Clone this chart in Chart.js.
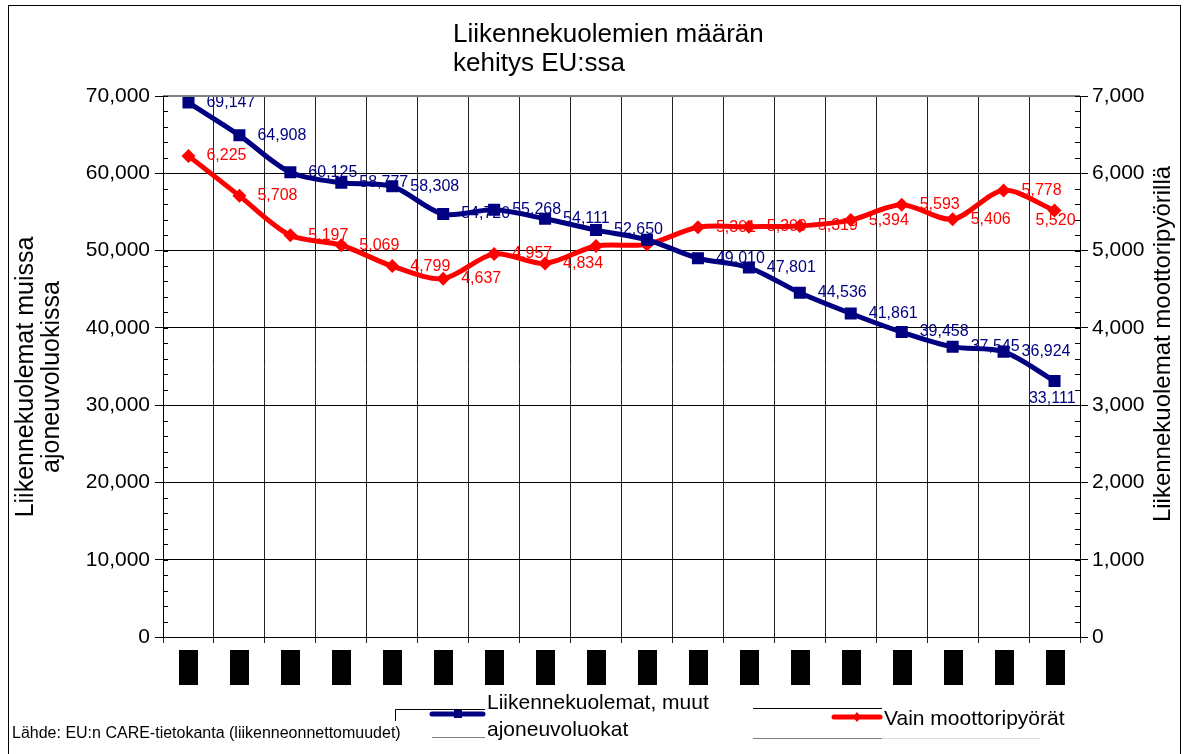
<!DOCTYPE html>
<html lang="fi">
<head>
<meta charset="utf-8">
<title>Liikennekuolemien määrän kehitys EU:ssa</title>
<script src="https://cdn.jsdelivr.net/npm/chart.js@4/dist/chart.umd.min.js"></script>
<style>
  body { margin: 0; background: #fff; }
  canvas { display: block; }
</style>
</head>
<body>
<canvas id="kaavio" width="1184" height="754"></canvas>
<script>
// vuodet (akselin tekstit näkyvät alkuperäisessä vain mustina palkkeina)
const vuodet = ["1991", "1992", "1993", "1994", "1995", "1996", "1997", "1998", "1999",
  "2000", "2001", "2002", "2003", "2004", "2005", "2006", "2007", "2008"];

// muut ajoneuvoluokat (vasen akseli)
const muutAjoneuvot = [69147, 64908, 60125, 58777, 58308, 54720, 55268, 54111, 52650,
  51400, 49010, 47801, 44536, 41861, 39458, 37545, 36924, 33111];

// moottoripyörät (oikea akseli)
const moottoripyorat = [6225, 5708, 5197, 5069, 4799, 4637, 4957, 4834, 5060,
  5080, 5301, 5309, 5319, 5394, 5593, 5406, 5778, 5520];

// arvot joiden tunnus puuttuu kuvasta
const piilotetutMuut = [9];
const piilotetutMp = [8, 9];

const vasenAkseli = [0, 10000, 20000, 30000, 40000, 50000, 60000, 70000];
const oikeaAkseli = [0, 1000, 2000, 3000, 4000, 5000, 6000, 7000];

const otsikko = ["Liikennekuolemien määrän", "kehitys EU:ssa"];
const vasenOtsikko = ["Liikennekuolemat muissa", "ajoneuvoluokissa"];
const oikeaOtsikko = "Liikennekuolemat moottoripyörillä";
const selite1 = ["Liikennekuolemat, muut", "ajoneuvoluokat"];
const selite2 = "Vain moottoripyörät";
const lahde = "Lähde: EU:n CARE-tietokanta (liikenneonnettomuudet)";

const fontti = "'Liberation Sans', Arial, sans-serif";
const sininen = "#000080";
const punainen = "#FF0000";

const muotoile = v => v.toLocaleString("en-US");

// arvotunnukset viivojen alle
const arvoTunnukset = {
  id: "arvoTunnukset",
  beforeDatasetsDraw(chart) {
    const ctx = chart.ctx;
    ctx.save();
    ctx.font = "16px " + fontti;
    chart.data.datasets.forEach((ds, di) => {
      const meta = chart.getDatasetMeta(di);
      const piilo = di === 0 ? piilotetutMuut : piilotetutMp;
      ctx.fillStyle = ds.borderColor;
      meta.data.forEach((p, i) => {
        if (piilo.includes(i)) return;
        const teksti = muotoile(ds.data[i]);
        if (i === ds.data.length - 1) {
          ctx.textAlign = "right";
          ctx.textBaseline = "middle";
          ctx.fillText(teksti, p.x + 21, p.y + (di === 0 ? 17 : 10));
        } else {
          ctx.textAlign = "left";
          ctx.textBaseline = "middle";
          ctx.fillText(teksti, p.x + 18, p.y);
        }
      });
    });
    ctx.restore();
  }
};

// otsikot, pikkuviivat, selite ym.
const koristeet = {
  id: "koristeet",
  afterDraw(chart) {
    const ctx = chart.ctx;
    const ca = chart.chartArea;
    const yV = chart.scales.y;
    const yO = chart.scales.y1;
    const x = chart.scales.x;
    ctx.save();

    // reunus
    ctx.strokeStyle = "#000";
    ctx.lineWidth = 1;
    ctx.strokeRect(8.5, 5.5, 1172, 760);

    // piirtoalueen yläreuna
    ctx.strokeStyle = "#808080";
    ctx.lineWidth = 2;
    ctx.beginPath();
    ctx.moveTo(ca.left, ca.top);
    ctx.lineTo(ca.right, ca.top);
    ctx.stroke();

    // pikkuviivat
    ctx.strokeStyle = "#000";
    ctx.lineWidth = 1;
    ctx.beginPath();
    for (let v = 0; v <= 70000; v += 2000) {
      const py = Math.round(yV.getPixelForValue(v)) + 0.5;
      ctx.moveTo(ca.left, py);
      ctx.lineTo(ca.left + 5, py);
    }
    for (let v = 0; v <= 7000; v += 200) {
      const py = Math.round(yO.getPixelForValue(v)) + 0.5;
      ctx.moveTo(ca.right - 5, py);
      ctx.lineTo(ca.right, py);
    }
    ctx.stroke();

    // x-akselin tekstit mustina palkkeina
    ctx.fillStyle = "#000";
    vuodet.forEach((v, i) => {
      const px = x.getPixelForValue(i);
      ctx.fillRect(Math.round(px - 9), 650, 19, 35);
    });

    // otsikko
    ctx.fillStyle = "#000";
    ctx.textAlign = "left";
    ctx.textBaseline = "alphabetic";
    ctx.font = "26px " + fontti;
    ctx.fillText(otsikko[0], 453, 42);
    ctx.fillText(otsikko[1], 453, 71);

    // akselien otsikot
    ctx.textAlign = "center";
    ctx.textBaseline = "middle";
    ctx.font = "25px " + fontti;
    ctx.save();
    ctx.translate(26, 377);
    ctx.rotate(-Math.PI / 2);
    ctx.fillText(vasenOtsikko[0], 0, 0);
    ctx.fillText(vasenOtsikko[1], 0, 26);
    ctx.restore();
    ctx.font = "24px " + fontti;
    ctx.save();
    ctx.translate(1163, 344);
    ctx.rotate(-Math.PI / 2);
    ctx.fillText(oikeaOtsikko, 0, 0);
    ctx.restore();

    // selitteen kehykset
    ctx.lineWidth = 1;
    ctx.strokeStyle = "#000";
    ctx.beginPath();
    ctx.moveTo(395.5, 721);
    ctx.lineTo(395.5, 709.5);
    ctx.lineTo(485, 709.5);
    ctx.moveTo(753, 708.5);
    ctx.lineTo(882, 708.5);
    ctx.stroke();
    ctx.strokeStyle = "#808080";
    ctx.beginPath();
    ctx.moveTo(432, 737.5);
    ctx.lineTo(485, 737.5);
    ctx.moveTo(753, 738.5);
    ctx.lineTo(882, 738.5);
    ctx.stroke();
    ctx.strokeStyle = "#ddd";
    ctx.beginPath();
    ctx.moveTo(882, 738.5);
    ctx.lineTo(1040, 738.5);
    ctx.stroke();

    // selitteen viivat
    ctx.lineWidth = 5;
    ctx.lineCap = "round";
    ctx.strokeStyle = sininen;
    ctx.beginPath();
    ctx.moveTo(432, 714);
    ctx.lineTo(483, 714);
    ctx.stroke();
    ctx.fillStyle = sininen;
    ctx.fillRect(454, 710, 8, 8);
    ctx.strokeStyle = punainen;
    ctx.beginPath();
    ctx.moveTo(834, 717);
    ctx.lineTo(880, 717);
    ctx.stroke();
    ctx.fillStyle = punainen;
    ctx.beginPath();
    ctx.moveTo(857, 712);
    ctx.lineTo(861, 717);
    ctx.lineTo(857, 722);
    ctx.lineTo(853, 717);
    ctx.closePath();
    ctx.fill();

    // selitteen tekstit
    ctx.fillStyle = "#000";
    ctx.textAlign = "left";
    ctx.textBaseline = "middle";
    ctx.font = "21px " + fontti;
    ctx.fillText(selite1[0], 487, 703);
    ctx.fillText(selite1[1], 487, 730);
    ctx.fillText(selite2, 884, 719);

    // lähde
    ctx.font = "16px " + fontti;
    ctx.fillText(lahde, 12, 734);

    ctx.restore();
  }
};

const tickFontti = { family: fontti, size: 21 };

new Chart(document.getElementById("kaavio"), {
  type: "line",
  data: {
    labels: vuodet,
    datasets: [
      {
        label: selite1.join(" "),
        data: muutAjoneuvot,
        yAxisID: "y",
        borderColor: sininen,
        backgroundColor: sininen,
        borderWidth: 5,
        pointStyle: "rect",
        pointRadius: 8.5,
        pointBorderWidth: 0,
        tension: 0.3,
        fill: false
      },
      {
        label: selite2,
        data: moottoripyorat,
        yAxisID: "y1",
        borderColor: punainen,
        backgroundColor: punainen,
        borderWidth: 5,
        pointStyle: "rectRot",
        pointRadius: 7,
        pointBorderWidth: 0,
        tension: 0.3,
        fill: false
      }
    ]
  },
  options: {
    responsive: false,
    animation: false,
    devicePixelRatio: 1,
    layout: { padding: { top: 96, left: 0, right: 0, bottom: 0 } },
    plugins: {
      legend: { display: false },
      tooltip: { enabled: false }
    },
    scales: {
      x: {
        offset: true,
        grid: { offset: true, color: "#222", lineWidth: 1, tickLength: 6 },
        border: { color: "#000", width: 1 },
        ticks: { display: false },
        afterFit: s => { s.height = 117; }
      },
      y: {
        position: "left",
        min: 0,
        max: 70000,
        afterBuildTicks: s => { s.ticks = vasenAkseli.map(v => ({ value: v })); },
        ticks: { font: tickFontti, color: "#000", padding: 5, callback: v => muotoile(v) },
        grid: { color: "#000", lineWidth: 1, tickLength: 8 },
        border: { color: "#000", width: 1 },
        afterFit: s => { s.width = 163; }
      },
      y1: {
        position: "right",
        min: 0,
        max: 7000,
        afterBuildTicks: s => { s.ticks = oikeaAkseli.map(v => ({ value: v })); },
        ticks: { font: tickFontti, color: "#000", padding: 4, callback: v => muotoile(v) },
        grid: { drawOnChartArea: false, color: "#000", lineWidth: 1, tickLength: 8 },
        border: { color: "#000", width: 1 },
        afterFit: s => { s.width = 104; }
      }
    }
  },
  plugins: [arvoTunnukset, koristeet]
});
</script>
</body>
</html>
